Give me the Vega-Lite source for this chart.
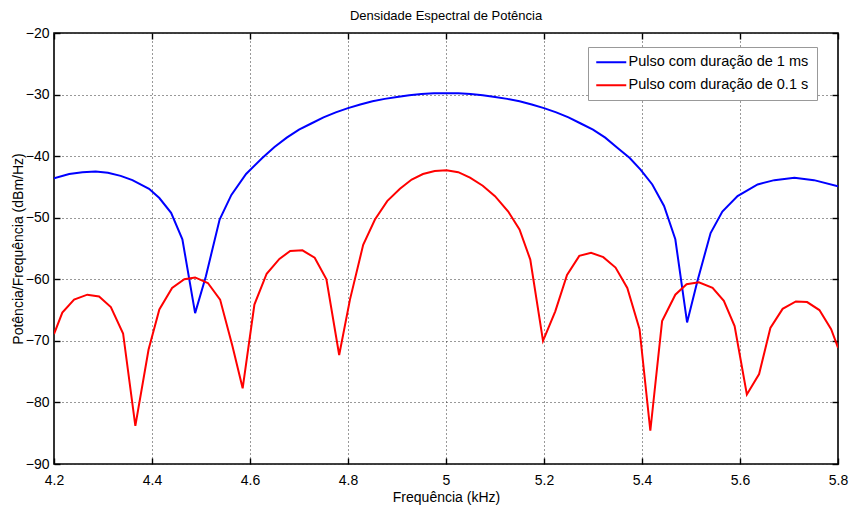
{
  "$schema": "https://vega.github.io/schema/vega-lite/v6.json",
  "autosize": "none",
  "padding": {"left": 54, "top": 33, "right": 11, "bottom": 41},
  "width": 784,
  "height": 431,
  "background": "white",
  "title": {"text": "Densidade Espectral de Potência", "font": "Liberation Sans", "fontSize": 13, "fontWeight": "normal", "offset": 3, "color": "black"},
  "config": {
    "view": {"stroke": "black", "strokeWidth": 1.6},
    "axis": {"labelFont": "Liberation Sans", "titleFont": "Liberation Sans", "labelFontSize": 14, "titleFontSize": 14, "titleFontWeight": "normal", "labelColor": "black", "titleColor": "black", "domain": false, "labelFlush": false, "tickColor": "black", "tickWidth": 1.4, "tickSize": -6, "gridColor": "#333333", "gridDash": [1, 3], "gridOpacity": 1, "gridWidth": 1}
  },
  "resolve": {"axis": {"x": "independent", "y": "independent"}},
  "data": {"values": [
    {"f": 4.200, "p": -43.6, "s": "Pulso com duração de 1 ms"},
    {"f": 4.231, "p": -42.9, "s": "Pulso com duração de 1 ms"},
    {"f": 4.258, "p": -42.6, "s": "Pulso com duração de 1 ms"},
    {"f": 4.285, "p": -42.5, "s": "Pulso com duração de 1 ms"},
    {"f": 4.310, "p": -42.7, "s": "Pulso com duração de 1 ms"},
    {"f": 4.336, "p": -43.2, "s": "Pulso com duração de 1 ms"},
    {"f": 4.360, "p": -43.9, "s": "Pulso com duração de 1 ms"},
    {"f": 4.394, "p": -45.3, "s": "Pulso com duração de 1 ms"},
    {"f": 4.415, "p": -46.8, "s": "Pulso com duração de 1 ms"},
    {"f": 4.439, "p": -49.2, "s": "Pulso com duração de 1 ms"},
    {"f": 4.462, "p": -53.5, "s": "Pulso com duração de 1 ms"},
    {"f": 4.488, "p": -65.5, "s": "Pulso com duração de 1 ms"},
    {"f": 4.510, "p": -59.5, "s": "Pulso com duração de 1 ms"},
    {"f": 4.538, "p": -50.3, "s": "Pulso com duração de 1 ms"},
    {"f": 4.562, "p": -46.3, "s": "Pulso com duração de 1 ms"},
    {"f": 4.592, "p": -42.9, "s": "Pulso com duração de 1 ms"},
    {"f": 4.625, "p": -40.3, "s": "Pulso com duração de 1 ms"},
    {"f": 4.650, "p": -38.5, "s": "Pulso com duração de 1 ms"},
    {"f": 4.675, "p": -37.0, "s": "Pulso com duração de 1 ms"},
    {"f": 4.700, "p": -35.7, "s": "Pulso com duração de 1 ms"},
    {"f": 4.725, "p": -34.7, "s": "Pulso com duração de 1 ms"},
    {"f": 4.750, "p": -33.7, "s": "Pulso com duração de 1 ms"},
    {"f": 4.775, "p": -32.9, "s": "Pulso com duração de 1 ms"},
    {"f": 4.800, "p": -32.2, "s": "Pulso com duração de 1 ms"},
    {"f": 4.825, "p": -31.6, "s": "Pulso com duração de 1 ms"},
    {"f": 4.850, "p": -31.1, "s": "Pulso com duração de 1 ms"},
    {"f": 4.875, "p": -30.7, "s": "Pulso com duração de 1 ms"},
    {"f": 4.900, "p": -30.4, "s": "Pulso com duração de 1 ms"},
    {"f": 4.925, "p": -30.1, "s": "Pulso com duração de 1 ms"},
    {"f": 4.950, "p": -29.9, "s": "Pulso com duração de 1 ms"},
    {"f": 4.975, "p": -29.8, "s": "Pulso com duração de 1 ms"},
    {"f": 5.000, "p": -29.8, "s": "Pulso com duração de 1 ms"},
    {"f": 5.025, "p": -29.8, "s": "Pulso com duração de 1 ms"},
    {"f": 5.050, "p": -29.9, "s": "Pulso com duração de 1 ms"},
    {"f": 5.075, "p": -30.1, "s": "Pulso com duração de 1 ms"},
    {"f": 5.100, "p": -30.4, "s": "Pulso com duração de 1 ms"},
    {"f": 5.125, "p": -30.7, "s": "Pulso com duração de 1 ms"},
    {"f": 5.150, "p": -31.1, "s": "Pulso com duração de 1 ms"},
    {"f": 5.175, "p": -31.6, "s": "Pulso com duração de 1 ms"},
    {"f": 5.200, "p": -32.2, "s": "Pulso com duração de 1 ms"},
    {"f": 5.225, "p": -32.9, "s": "Pulso com duração de 1 ms"},
    {"f": 5.250, "p": -33.7, "s": "Pulso com duração de 1 ms"},
    {"f": 5.275, "p": -34.7, "s": "Pulso com duração de 1 ms"},
    {"f": 5.300, "p": -35.7, "s": "Pulso com duração de 1 ms"},
    {"f": 5.325, "p": -37.0, "s": "Pulso com duração de 1 ms"},
    {"f": 5.349, "p": -38.6, "s": "Pulso com duração de 1 ms"},
    {"f": 5.375, "p": -40.3, "s": "Pulso com duração de 1 ms"},
    {"f": 5.397, "p": -42.2, "s": "Pulso com duração de 1 ms"},
    {"f": 5.421, "p": -44.6, "s": "Pulso com duração de 1 ms"},
    {"f": 5.445, "p": -48.1, "s": "Pulso com duração de 1 ms"},
    {"f": 5.468, "p": -53.5, "s": "Pulso com duração de 1 ms"},
    {"f": 5.492, "p": -67.0, "s": "Pulso com duração de 1 ms"},
    {"f": 5.513, "p": -60.3, "s": "Pulso com duração de 1 ms"},
    {"f": 5.540, "p": -52.5, "s": "Pulso com duração de 1 ms"},
    {"f": 5.564, "p": -49.0, "s": "Pulso com duração de 1 ms"},
    {"f": 5.595, "p": -46.5, "s": "Pulso com duração de 1 ms"},
    {"f": 5.636, "p": -44.6, "s": "Pulso com duração de 1 ms"},
    {"f": 5.670, "p": -43.9, "s": "Pulso com duração de 1 ms"},
    {"f": 5.711, "p": -43.5, "s": "Pulso com duração de 1 ms"},
    {"f": 5.751, "p": -43.9, "s": "Pulso com duração de 1 ms"},
    {"f": 5.800, "p": -44.9, "s": "Pulso com duração de 1 ms"},
    {"f": 4.200, "p": -68.9, "s": "Pulso com duração de 0.1 s"},
    {"f": 4.217, "p": -65.4, "s": "Pulso com duração de 0.1 s"},
    {"f": 4.241, "p": -63.3, "s": "Pulso com duração de 0.1 s"},
    {"f": 4.268, "p": -62.5, "s": "Pulso com duração de 0.1 s"},
    {"f": 4.292, "p": -62.8, "s": "Pulso com duração de 0.1 s"},
    {"f": 4.316, "p": -64.5, "s": "Pulso com duração de 0.1 s"},
    {"f": 4.341, "p": -68.8, "s": "Pulso com duração de 0.1 s"},
    {"f": 4.366, "p": -83.8, "s": "Pulso com duração de 0.1 s"},
    {"f": 4.393, "p": -71.4, "s": "Pulso com duração de 0.1 s"},
    {"f": 4.415, "p": -64.9, "s": "Pulso com duração de 0.1 s"},
    {"f": 4.441, "p": -61.4, "s": "Pulso com duração de 0.1 s"},
    {"f": 4.466, "p": -60.0, "s": "Pulso com duração de 0.1 s"},
    {"f": 4.488, "p": -59.7, "s": "Pulso com duração de 0.1 s"},
    {"f": 4.514, "p": -60.6, "s": "Pulso com duração de 0.1 s"},
    {"f": 4.539, "p": -63.3, "s": "Pulso com duração de 0.1 s"},
    {"f": 4.564, "p": -70.8, "s": "Pulso com duração de 0.1 s"},
    {"f": 4.585, "p": -77.7, "s": "Pulso com duração de 0.1 s"},
    {"f": 4.609, "p": -64.1, "s": "Pulso com duração de 0.1 s"},
    {"f": 4.634, "p": -59.1, "s": "Pulso com duração de 0.1 s"},
    {"f": 4.660, "p": -56.7, "s": "Pulso com duração de 0.1 s"},
    {"f": 4.682, "p": -55.4, "s": "Pulso com duração de 0.1 s"},
    {"f": 4.707, "p": -55.3, "s": "Pulso com duração de 0.1 s"},
    {"f": 4.732, "p": -56.5, "s": "Pulso com duração de 0.1 s"},
    {"f": 4.756, "p": -60.0, "s": "Pulso com duração de 0.1 s"},
    {"f": 4.782, "p": -72.3, "s": "Pulso com duração de 0.1 s"},
    {"f": 4.804, "p": -63.3, "s": "Pulso com duração de 0.1 s"},
    {"f": 4.831, "p": -54.4, "s": "Pulso com duração de 0.1 s"},
    {"f": 4.855, "p": -50.3, "s": "Pulso com duração de 0.1 s"},
    {"f": 4.880, "p": -47.3, "s": "Pulso com duração de 0.1 s"},
    {"f": 4.906, "p": -45.3, "s": "Pulso com duração de 0.1 s"},
    {"f": 4.930, "p": -43.8, "s": "Pulso com duração de 0.1 s"},
    {"f": 4.953, "p": -42.9, "s": "Pulso com duração de 0.1 s"},
    {"f": 4.977, "p": -42.4, "s": "Pulso com duração de 0.1 s"},
    {"f": 5.001, "p": -42.3, "s": "Pulso com duração de 0.1 s"},
    {"f": 5.025, "p": -42.6, "s": "Pulso com duração de 0.1 s"},
    {"f": 5.049, "p": -43.5, "s": "Pulso com duração de 0.1 s"},
    {"f": 5.075, "p": -44.8, "s": "Pulso com duração de 0.1 s"},
    {"f": 5.100, "p": -46.5, "s": "Pulso com duração de 0.1 s"},
    {"f": 5.127, "p": -49.0, "s": "Pulso com duração de 0.1 s"},
    {"f": 5.150, "p": -51.9, "s": "Pulso com duração de 0.1 s"},
    {"f": 5.172, "p": -56.8, "s": "Pulso com duração de 0.1 s"},
    {"f": 5.198, "p": -70.0, "s": "Pulso com duração de 0.1 s"},
    {"f": 5.223, "p": -65.2, "s": "Pulso com duração de 0.1 s"},
    {"f": 5.247, "p": -59.3, "s": "Pulso com duração de 0.1 s"},
    {"f": 5.272, "p": -56.2, "s": "Pulso com duração de 0.1 s"},
    {"f": 5.296, "p": -55.7, "s": "Pulso com duração de 0.1 s"},
    {"f": 5.321, "p": -56.4, "s": "Pulso com duração de 0.1 s"},
    {"f": 5.346, "p": -58.1, "s": "Pulso com duração de 0.1 s"},
    {"f": 5.370, "p": -61.4, "s": "Pulso com duração de 0.1 s"},
    {"f": 5.395, "p": -68.1, "s": "Pulso com duração de 0.1 s"},
    {"f": 5.417, "p": -84.6, "s": "Pulso com duração de 0.1 s"},
    {"f": 5.441, "p": -66.8, "s": "Pulso com duração de 0.1 s"},
    {"f": 5.468, "p": -62.5, "s": "Pulso com duração de 0.1 s"},
    {"f": 5.491, "p": -60.8, "s": "Pulso com duração de 0.1 s"},
    {"f": 5.516, "p": -60.5, "s": "Pulso com duração de 0.1 s"},
    {"f": 5.544, "p": -61.4, "s": "Pulso com duração de 0.1 s"},
    {"f": 5.567, "p": -63.5, "s": "Pulso com duração de 0.1 s"},
    {"f": 5.589, "p": -67.6, "s": "Pulso com duração de 0.1 s"},
    {"f": 5.614, "p": -78.7, "s": "Pulso com duração de 0.1 s"},
    {"f": 5.639, "p": -75.4, "s": "Pulso com duração de 0.1 s"},
    {"f": 5.662, "p": -67.9, "s": "Pulso com duração de 0.1 s"},
    {"f": 5.687, "p": -64.8, "s": "Pulso com duração de 0.1 s"},
    {"f": 5.714, "p": -63.6, "s": "Pulso com duração de 0.1 s"},
    {"f": 5.737, "p": -63.7, "s": "Pulso com duração de 0.1 s"},
    {"f": 5.762, "p": -65.0, "s": "Pulso com duração de 0.1 s"},
    {"f": 5.786, "p": -68.1, "s": "Pulso com duração de 0.1 s"},
    {"f": 5.800, "p": -71.1, "s": "Pulso com duração de 0.1 s"}
  ]},
  "layer": [
    {
      "mark": {"type": "line", "strokeWidth": 2, "clip": true},
      "encoding": {
        "x": {"field": "f", "type": "quantitative", "scale": {"domain": [4.2, 5.8], "nice": false, "zero": false},
              "axis": {"orient": "bottom", "title": "Frequência (kHz)", "values": [4.2, 4.4, 4.6, 4.8, 5.0, 5.2, 5.4, 5.6, 5.8], "format": "~g", "labelPadding": 15, "titlePadding": 3, "grid": true}},
        "y": {"field": "p", "type": "quantitative", "scale": {"domain": [-90, -20], "nice": false, "zero": false},
              "axis": {"orient": "left", "title": "Potência/Frequência (dBm/Hz)", "values": [-90, -80, -70, -60, -50, -40, -30, -20], "labelPadding": 11, "titlePadding": 0, "grid": true}},
        "color": {"field": "s", "type": "nominal",
                  "scale": {"domain": ["Pulso com duração de 1 ms", "Pulso com duração de 0.1 s"], "range": ["#0000ff", "#ff0000"]},
                  "legend": {"title": null, "orient": "none", "legendX": 534, "legendY": 14, "symbolType": "M-3,0H3", "symbolSize": 100, "symbolOffset": 8, "symbolStrokeWidth": 2, "labelFont": "Liberation Sans", "labelFontSize": 14.5, "labelLimit": 400, "labelColor": "black", "strokeColor": "#999999", "fillColor": "white", "padding": 8, "rowPadding": 8, "labelOffset": 10}}
      }
    },
    {
      "mark": {"type": "rule", "opacity": 0},
      "encoding": {
        "x": {"field": "f", "type": "quantitative", "axis": {"orient": "top", "labels": false, "title": null, "grid": false, "values": [4.2, 4.4, 4.6, 4.8, 5.0, 5.2, 5.4, 5.6, 5.8]}},
        "y": {"field": "p", "type": "quantitative", "axis": {"orient": "right", "labels": false, "title": null, "grid": false, "values": [-90, -80, -70, -60, -50, -40, -30, -20]}}
      }
    }
  ]
}
